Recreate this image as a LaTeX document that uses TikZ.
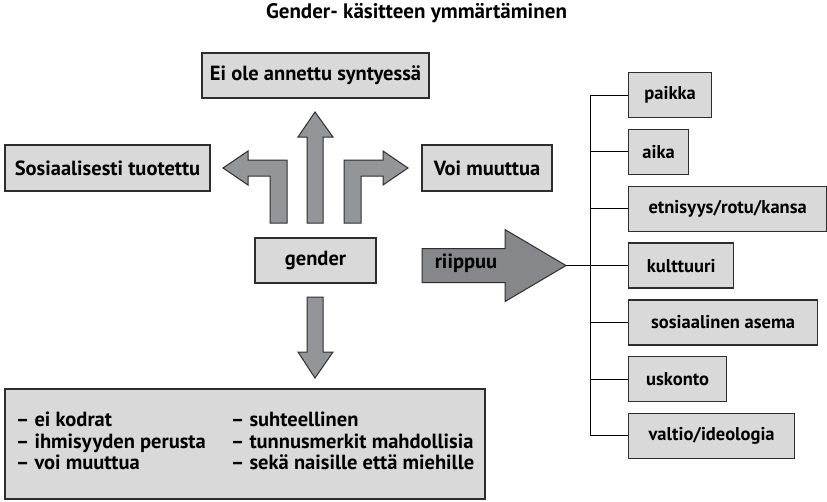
\documentclass[tikz,border=0pt]{standalone}
\usepackage{fontspec}
\setmainfont{PT Sans}
\usetikzlibrary{positioning}
\definecolor{boxgray}{HTML}{D9D9DA}
\definecolor{arrowgray}{HTML}{939598}
\definecolor{darkarrow}{HTML}{86878A}
\definecolor{edgegray}{HTML}{2E2E2E}

\begin{document}
\begin{tikzpicture}[x=1pt, y=-1pt, node distance=10.5pt,
    font=\fontsize{20.5}{21.5}\selectfont\bfseries,
    box/.style={draw=edgegray, fill=boxgray, line width=1.3pt, minimum height=45, inner sep=0pt},
    sidebox/.style={box, anchor=north west, font=\fontsize{18.5}{20}\selectfont\bfseries},
    blockarrow/.style={draw=edgegray, fill=arrowgray, line width=1pt, line join=miter}]
  \useasboundingbox (0,0) rectangle (827,501);

  \node[font=\fontsize{21}{23}\selectfont\bfseries] (title) at (416.5,13) {Gender- käsitteen ymmärtäminen};

  % centre column
  \node[box, minimum width=227] (born) at (315.5,75.5) {Ei ole annettu syntyessä};
  \node[box, minimum width=205, minimum height=46] (social) at (107.5,168) {Sosiaalisesti tuotettu};
  \node[box, minimum width=130, minimum height=46] (change) at (487,168) {Voi muuttua};
  \node[box, minimum width=121] (gender) at (315.5,260.5) {gender};
  \node[box, minimum width=480, minimum height=110] (traits) at (245,444) {%
    \begin{tabular}{@{}l@{\hspace{25pt}}l@{}}
      – ei kodrat & – suhteellinen\\
      – ihmisyyden perusta & – tunnusmerkit mahdollisia\\
      – voi muuttua & – sekä naisille että miehille
    \end{tabular}};

  % arrows out of gender
  \draw[blockarrow] (287,223) -- (287,160) -- (248,160) -- (248,151) -- (223,168)
    -- (248,185) -- (248,176) -- (270,176) -- (270,223) -- cycle;
  \draw[blockarrow] (307,223) -- (307,137) -- (298,137) -- (315,112) -- (333,137)
    -- (323,137) -- (323,223) -- cycle;
  \draw[blockarrow] (344,223) -- (344,160) -- (383,160) -- (383,151) -- (408,168)
    -- (383,185) -- (383,176) -- (361,176) -- (361,223) -- cycle;
  \draw[blockarrow] (307,297) -- (323,297) -- (323,352) -- (333,352) -- (315,378)
    -- (298,352) -- (307,352) -- cycle;

  % right column
  \node[sidebox, minimum width=83] (paikka) at (628,72) {paikka};
  \node[sidebox, minimum width=60, below=of paikka.south west, anchor=north west] (aika) {aika};
  \node[sidebox, minimum width=198, below=of aika.south west, anchor=north west] (etnisyys) {etnisyys/rotu/kansa};
  \node[sidebox, minimum width=105, below=of etnisyys.south west, anchor=north west] (kulttuuri) {kulttuuri};
  \node[sidebox, minimum width=189, below=of kulttuuri.south west, anchor=north west] (asema) {sosiaalinen asema};
  \node[sidebox, minimum width=98, below=of asema.south west, anchor=north west] (uskonto) {uskonto};
  \node[sidebox, minimum width=166, below=of uskonto.south west, anchor=north west] (valtio) {valtio/ideologia};

  % riippuu
  \path (kulttuuri.west) ++(-62,0) coordinate (tip);
  \draw[blockarrow, fill=darkarrow] (tip) -- ++(-61,-36) -- ++(0,19) -- ++(-83,0)
    -- ++(0,34) -- ++(83,0) -- ++(0,19) -- cycle;
  \node (depends) at ([xshift=-100pt, yshift=2pt]tip) {riippuu};

  \coordinate (bus) at (590,0);
  \draw[line width=1pt] (paikka.west) -- (paikka.west -| bus) -- (valtio.west -| bus) -- (valtio.west);
  \foreach \n in {aika,etnisyys,asema,uskonto}
    \draw[line width=1pt] (\n.west) -- (\n.west -| bus);
  \draw[line width=1pt] (tip) -- (kulttuuri.west);
\end{tikzpicture}
\end{document}
